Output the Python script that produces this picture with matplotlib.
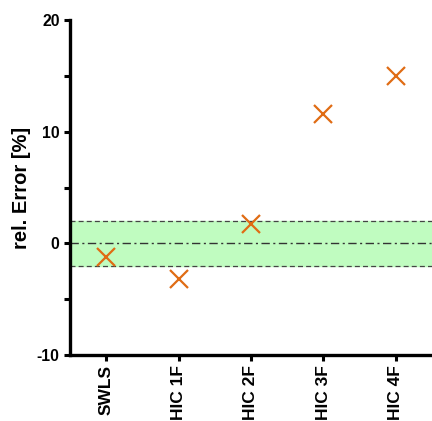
import matplotlib
matplotlib.use("Agg")
import matplotlib.pyplot as plt
from matplotlib.ticker import MultipleLocator

plt.rcParams['font.family'] = ['Liberation Sans', 'DejaVu Sans']
plt.rcParams['axes.unicode_minus'] = False

categories = ["SWLS", "HIC 1F", "HIC 2F", "HIC 3F", "HIC 4F"]
rel_error = [-1.2, -3.2, 1.7, 11.6, 15.0]
band_limit = 2.0

fig = plt.figure(figsize=(4.32, 4.21), dpi=100)
ax = fig.add_axes([0.162, 0.157, 0.838, 0.795])

x = list(range(len(categories)))
ax.axhspan(-band_limit, band_limit, color="#c0fcc0", zorder=0)
ax.axhline(band_limit, color="#444444", lw=0.9, ls=(0, (4, 2.5)), zorder=1)
ax.axhline(-band_limit, color="#444444", lw=0.9, ls=(0, (4, 2.5)), zorder=1)
ax.axhline(0, color="#333333", lw=1.0, ls=(0, (6, 2.5, 1.5, 2.5)), zorder=1)

ax.plot(x, rel_error, ls="none", marker="x", ms=12.5, mew=1.6,
        color="#e06c14", zorder=3)

ax.set_xlim(-0.5, len(categories) - 0.5)
ax.set_ylim(-10, 20)
ax.yaxis.set_major_locator(MultipleLocator(10))
ax.yaxis.set_minor_locator(MultipleLocator(5))
ax.set_xticks(x)
ax.set_xticklabels(categories, rotation=90, fontweight="bold", fontsize=12.5)
for lab in ax.get_yticklabels():
    lab.set_fontweight("bold")
    lab.set_fontsize(11.3)

for side in ("top", "right"):
    ax.spines[side].set_visible(False)
for side in ("left", "bottom"):
    ax.spines[side].set_linewidth(2.4)

ax.tick_params(axis="both", which="major", width=2.2, length=4.5, pad=3)
ax.tick_params(axis="y", which="minor", width=2.2, length=4.5)
ax.set_ylabel("rel. Error [%]", fontweight="bold", fontsize=14.5, labelpad=4)

fig.savefig("out.png", dpi=100)
